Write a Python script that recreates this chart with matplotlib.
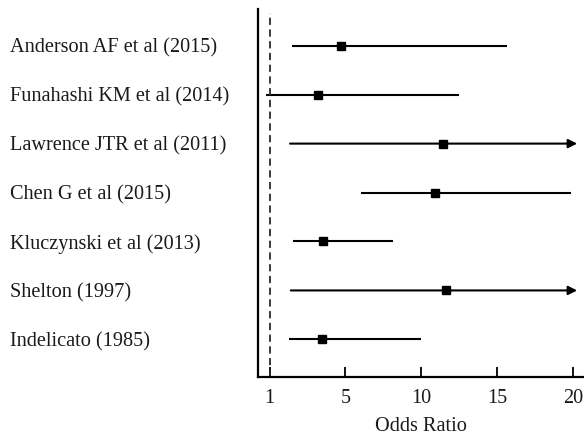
import matplotlib.pyplot as plt
import matplotlib.transforms as mtransforms

# Study data (plot positions along the odds ratio axis)
studies = ['Anderson AF et al (2015)', 'Funahashi KM et al (2014)',
           'Lawrence JTR et al (2011)', 'Chen G et al (2015)',
           'Kluczynski et al (2013)', 'Shelton (1997)', 'Indelicato (1985)']
odds = [4.7, 3.2, 11.4, 10.9, 3.5, 11.6, 3.45]
lower = [1.45, -0.2, 1.35, 6.05, 1.55, 1.4, 1.3]
upper = [15.6, 12.5, None, 19.85, 8.1, None, 9.95]  # None = runs off the axis (arrow)

tick_pos = [0, 5, 10, 15, 20]
tick_labels = ['1', '5', '10', '15', '20']

plt.rcParams['font.family'] = ['Liberation Serif', 'DejaVu Serif']

fig = plt.figure(figsize=(5.84, 4.35), dpi=100)
ax = fig.add_axes([0.442, 0.132, 0.558, 0.845])

ys = list(range(len(studies), 0, -1))
arrow_end = 20.25

for y, o, lo, hi in zip(ys, odds, lower, upper):
    if hi is None:
        ax.annotate('', xy=(arrow_end, y), xytext=(lo, y),
                    arrowprops=dict(arrowstyle='-|>', lw=1.5, color='black',
                                    mutation_scale=13, shrinkA=0, shrinkB=0))
    else:
        ax.plot([lo, hi], [y, y], color='black', lw=1.5, solid_capstyle='butt')
    ax.plot(o, y, 's', color='black', ms=6)

#  Reference line at odds ratio of 1
ax.axvline(0, color='#2a2a2a', lw=1.3, linestyle=(0, (4, 2.5)), ymax=0.99)

#  Study names on the left, left aligned
trans = mtransforms.blended_transform_factory(fig.transFigure, ax.transData)
for y, name in zip(ys, studies):
    ax.text(10 / 584, y - 0.03, name, transform=trans, ha='left', va='center',
            fontsize=14.6, color='#1a1a1a')

ax.set_xlim(-0.75, 20.7)
ax.set_ylim(0.24, 7.75)
ax.set_yticks([])
ax.set_xticks(tick_pos)
ax.set_xticklabels(tick_labels, fontsize=14.6, color='#1a1a1a')
ax.tick_params(axis='x', direction='in', length=7, width=1.3, pad=8)
ax.set_xlabel('Odds Ratio', fontsize=14.6, color='#1a1a1a', labelpad=7)

ax.spines['top'].set_visible(False)
ax.spines['right'].set_visible(False)
ax.spines['left'].set_linewidth(1.6)
ax.spines['bottom'].set_linewidth(1.6)

fig.savefig('out.png', dpi=100)
